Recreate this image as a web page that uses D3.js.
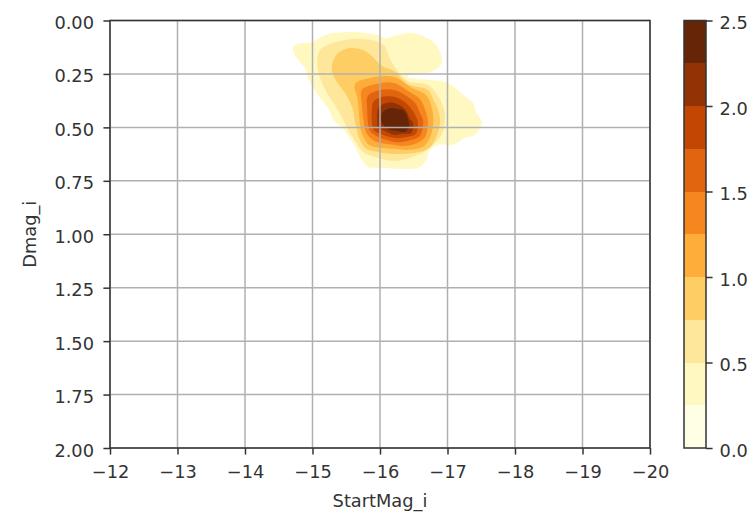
<!DOCTYPE html>
<html>
<head>
<meta charset="utf-8">
<script src="https://cdn.jsdelivr.net/npm/d3@7"></script>
<style>
  body { margin: 0; background: #fff; }
  svg text { font-family: "DejaVu Sans", sans-serif; fill: #333; }
</style>
</head>
<body>
<svg id="chart" width="756" height="517"></svg>
<script>
// axis ticks
const xTicks = [-12, -13, -14, -15, -16, -17, -18, -19, -20];
const yTicks = [0, 0.25, 0.5, 0.75, 1, 1.25, 1.5, 1.75, 2];
const cbarTicks = [0, 0.5, 1, 1.5, 2, 2.5];

// contour levels (density) and colour map nodes (YlOrBr)
const levels = [0, 0.25, 0.5, 0.75, 1, 1.25, 1.5, 1.75, 2, 2.25, 2.5];
const ylorbr = ["#ffffe5", "#fff7bc", "#fee391", "#fec44f", "#fe9929", "#ec7014", "#cc4c02", "#993404", "#662506"];

// contour outlines: [StartMag_i, Dmag_i]
const contour025 = [[-14.71,0.138],[-14.74,0.114],[-14.89,0.105],[-15.00,0.100],[-15.19,0.068],[-15.33,0.058],[-15.59,0.054],[-15.78,0.058],[-15.97,0.068],[-16.07,0.082],[-16.27,0.068],[-16.47,0.058],[-16.67,0.077],[-16.81,0.105],[-16.89,0.147],[-16.92,0.194],[-16.86,0.222],[-16.71,0.245],[-16.44,0.250],[-16.41,0.264],[-16.52,0.273],[-16.74,0.278],[-16.96,0.287],[-17.11,0.315],[-17.26,0.357],[-17.38,0.386],[-17.42,0.428],[-17.51,0.474],[-17.48,0.502],[-17.41,0.535],[-17.26,0.549],[-17.07,0.582],[-16.86,0.582],[-16.74,0.605],[-16.67,0.661],[-16.56,0.689],[-16.30,0.694],[-16.03,0.689],[-15.82,0.685],[-15.75,0.661],[-15.67,0.615],[-15.59,0.568],[-15.44,0.502],[-15.33,0.474],[-15.23,0.409],[-15.08,0.348],[-14.99,0.301],[-14.93,0.269],[-14.89,0.222],[-14.81,0.194],[-14.74,0.161]];
const contour050 = [[-15.07,0.194],[-15.11,0.138],[-15.26,0.110],[-15.48,0.091],[-15.73,0.086],[-15.94,0.096],[-16.07,0.119],[-16.13,0.166],[-16.21,0.213],[-16.41,0.283],[-16.71,0.301],[-16.86,0.353],[-16.95,0.418],[-16.96,0.474],[-16.92,0.530],[-16.80,0.577],[-16.65,0.615],[-16.44,0.643],[-16.21,0.657],[-15.97,0.643],[-15.75,0.615],[-15.64,0.568],[-15.53,0.512],[-15.44,0.456],[-15.33,0.395],[-15.19,0.325],[-15.10,0.255]];
const contour075 = [[-15.30,0.194],[-15.38,0.152],[-15.56,0.129],[-15.75,0.138],[-15.88,0.166],[-16.03,0.213],[-16.21,0.236],[-16.41,0.297],[-16.71,0.325],[-16.80,0.376],[-16.87,0.428],[-16.89,0.474],[-16.84,0.540],[-16.73,0.596],[-16.52,0.619],[-16.21,0.624],[-15.97,0.615],[-15.79,0.600],[-15.70,0.558],[-15.63,0.474],[-15.59,0.409],[-15.50,0.348],[-15.36,0.287],[-15.29,0.241]];
const contour100 = [[-15.63,0.297],[-15.85,0.269],[-16.21,0.264],[-16.47,0.315],[-16.68,0.348],[-16.76,0.400],[-16.79,0.474],[-16.74,0.549],[-16.64,0.591],[-16.44,0.605],[-16.21,0.600],[-16.00,0.596],[-15.84,0.582],[-15.73,0.526],[-15.70,0.474],[-15.67,0.371]];
const contour125 = [[-15.73,0.325],[-15.94,0.297],[-16.21,0.292],[-16.44,0.334],[-16.59,0.367],[-16.67,0.418],[-16.71,0.474],[-16.67,0.544],[-16.56,0.572],[-16.40,0.586],[-16.21,0.582],[-15.91,0.563],[-15.79,0.521],[-15.76,0.474],[-15.73,0.390]];
const contour150 = [[-15.82,0.353],[-16.00,0.325],[-16.21,0.325],[-16.39,0.353],[-16.52,0.386],[-16.59,0.432],[-16.64,0.474],[-16.59,0.540],[-16.47,0.558],[-16.34,0.568],[-16.21,0.568],[-15.97,0.544],[-15.85,0.516],[-15.82,0.474],[-15.81,0.409]];
const contour175 = [[-15.90,0.381],[-16.04,0.357],[-16.21,0.357],[-16.34,0.376],[-16.44,0.404],[-16.52,0.442],[-16.56,0.474],[-16.53,0.530],[-16.41,0.544],[-16.21,0.549],[-16.01,0.530],[-15.91,0.512],[-15.88,0.474],[-15.88,0.418]];
const contour200 = [[-15.99,0.404],[-16.10,0.386],[-16.21,0.386],[-16.31,0.400],[-16.39,0.423],[-16.44,0.460],[-16.49,0.479],[-16.46,0.526],[-16.34,0.530],[-16.21,0.535],[-16.07,0.516],[-15.97,0.502],[-15.96,0.465],[-15.96,0.428]];
const contour225 = [[-16.05,0.425],[-16.15,0.410],[-16.26,0.414],[-16.35,0.420],[-16.41,0.456],[-16.43,0.490],[-16.38,0.519],[-16.24,0.516],[-16.11,0.505],[-16.03,0.480],[-16.02,0.452]];

const contours = [contour025, contour050, contour075, contour100, contour125,
                  contour150, contour175, contour200, contour225];

const svg = d3.select('#chart');
const W = 756, H = 517;
const plotLeft = 110, plotRight = 650, plotTop = 20.5, plotBottom = 448;
const fontSize = 17.8, tickLen = 6.6;

svg.append('rect').attr('width', W).attr('height', H).attr('fill', '#fff');

const x = d3.scaleLinear().domain([-12, -20]).range([plotLeft, plotRight]);
const y = d3.scaleLinear().domain([0, 2]).range([plotTop, plotBottom]);

// colour for band k (levels[k]..levels[k+1]), like matplotlib contourf
const cmap = d3.scaleLinear()
  .domain(ylorbr.map((c, i) => i / (ylorbr.length - 1)))
  .range(ylorbr)
  .interpolate(d3.interpolateRgb);
const bandColor = k => cmap(k / (levels.length - 2));

// filled contours, lowest first
const line = d3.line()
  .x(d => x(d[0]))
  .y(d => y(d[1]))
  .curve(d3.curveCatmullRomClosed.alpha(0.5));

svg.append('g')
  .selectAll('path')
  .data(contours)
  .join('path')
  .attr('d', d => line(d))
  .attr('fill', (d, i) => bandColor(i + 1));

// grid on top
const grid = svg.append('g').attr('stroke', '#b0b0b0').attr('stroke-width', 1.5);
grid.selectAll('.vx').data(xTicks).join('line')
  .attr('x1', d => x(d)).attr('x2', d => x(d))
  .attr('y1', plotTop).attr('y2', plotBottom);
grid.selectAll('.hy').data(yTicks).join('line')
  .attr('y1', d => y(d)).attr('y2', d => y(d))
  .attr('x1', plotLeft).attr('x2', plotRight);

// axes
const fmtX = d => (d < 0 ? '\u2212' : '') + Math.abs(d);
const xAxis = svg.append('g')
  .attr('transform', `translate(0,${plotBottom})`)
  .call(d3.axisBottom(x).tickValues(xTicks).tickFormat(fmtX)
        .tickSizeInner(tickLen).tickSizeOuter(0));
xAxis.selectAll('text').attr('y', 30).attr('dy', null);

const yAxis = svg.append('g')
  .attr('transform', `translate(${plotLeft},0)`)
  .call(d3.axisLeft(y).tickValues(yTicks).tickFormat(d3.format('.2f'))
        .tickSizeInner(tickLen).tickSizeOuter(0));
yAxis.selectAll('text').attr('x', -16).attr('dy', '0.45em');

[xAxis, yAxis].forEach(g => {
  g.select('.domain').remove();
  g.selectAll('line').attr('stroke', '#333').attr('stroke-width', 1.5);
  g.selectAll('text').attr('font-size', fontSize).attr('fill', '#333');
});

// spines
svg.append('rect')
  .attr('x', plotLeft).attr('y', plotTop)
  .attr('width', plotRight - plotLeft).attr('height', plotBottom - plotTop)
  .attr('fill', 'none').attr('stroke', '#333').attr('stroke-width', 1.5);

// axis labels
svg.append('text')
  .attr('x', (plotLeft + plotRight) / 2).attr('y', 507)
  .attr('text-anchor', 'middle').attr('font-size', fontSize)
  .text('StartMag_i');
svg.append('text')
  .attr('transform', `translate(36,${(plotTop + plotBottom) / 2}) rotate(-90)`)
  .attr('text-anchor', 'middle').attr('font-size', fontSize)
  .text('Dmag_i');

// colorbar
const cbLeft = 684, cbRight = 706;
const cb = d3.scaleLinear().domain([0, 2.5]).range([plotBottom, plotTop]);
svg.append('g')
  .selectAll('rect')
  .data(d3.range(levels.length - 1))
  .join('rect')
  .attr('x', cbLeft).attr('width', cbRight - cbLeft)
  .attr('y', k => cb(levels[k + 1]))
  .attr('height', k => cb(levels[k]) - cb(levels[k + 1]))
  .attr('fill', k => bandColor(k))
  .attr('shape-rendering', 'crispEdges');
svg.append('rect')
  .attr('x', cbLeft).attr('y', plotTop)
  .attr('width', cbRight - cbLeft).attr('height', plotBottom - plotTop)
  .attr('fill', 'none').attr('stroke', '#333').attr('stroke-width', 1.5);

const cbAxis = svg.append('g')
  .attr('transform', `translate(${cbRight},0)`)
  .call(d3.axisRight(cb).tickValues(cbarTicks).tickFormat(d3.format('.1f'))
        .tickSizeInner(tickLen).tickSizeOuter(0).tickPadding(7));
cbAxis.select('.domain').remove();
cbAxis.selectAll('line').attr('stroke', '#333').attr('stroke-width', 1.5);
cbAxis.selectAll('text').attr('font-size', fontSize).attr('fill', '#333').attr('dy', '0.45em');
</script>
</body>
</html>
